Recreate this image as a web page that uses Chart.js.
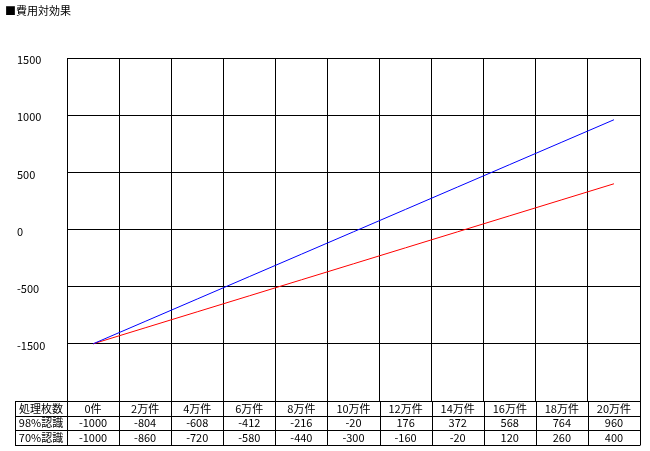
<!DOCTYPE html>
<html>
<head>
<meta charset="utf-8">
<script src="https://cdn.jsdelivr.net/npm/chart.js@4/dist/chart.umd.min.js"></script>
<style>
  body { margin: 0; background: #fff; }
  canvas { display: block; }
</style>
</head>
<body>
<canvas id="costChart" width="650" height="451"></canvas>
<script>
const titleText = '■費用対効果';
const categories = ['0件', '2万件', '4万件', '6万件', '8万件', '10万件', '12万件', '14万件', '16万件', '18万件', '20万件'];
const rate98 = [-1000, -804, -608, -412, -216, -20, 176, 372, 568, 764, 960];
const rate70 = [-1000, -860, -720, -580, -440, -300, -160, -20, 120, 260, 400];
const seriesNames = ['98%認識', '70%認識'];
const headerName = '処理枚数';
// tick labels as they appear in the original (the -1000 line is labelled -1500)
const yTickValues = [1500, 1000, 500, 0, -500, -1000, -1500];
const yTickLabels = ['1500', '1000', '500', '0', '-500', '-1500', ''];

const FONT = "'Noto Sans CJK JP', 'DejaVu Sans', sans-serif";

const dataTable = {
    id: 'dataTable',
    afterDraw(chart) {
        const ctx = chart.ctx;
        const area = chart.chartArea;
        const x = chart.scales.x;
        const rowH = 14.5;
        const left = 15;
        const colW = (area.right - area.left) / categories.length;
        const rows = [[headerName, ...categories],
                      [seriesNames[0], ...rate98.map(String)],
                      [seriesNames[1], ...rate70.map(String)]];

        ctx.save();
        ctx.strokeStyle = '#000';
        ctx.lineWidth = 1;
        ctx.beginPath();
        for (let r = 0; r <= rows.length; r++) {
            const y = Math.round(area.bottom + r * rowH) + 0.5;
            ctx.moveTo(left, y);
            ctx.lineTo(area.right, y);
        }
        const bottom = Math.round(area.bottom + rows.length * rowH) + 0.5;
        ctx.moveTo(left + 0.5, area.bottom);
        ctx.lineTo(left + 0.5, bottom);
        for (let i = 0; i <= categories.length; i++) {
            const gx = Math.round(area.left + i * colW) + 0.5;
            ctx.moveTo(gx, area.bottom);
            ctx.lineTo(gx, bottom);
        }
        ctx.stroke();

        ctx.fillStyle = '#000';
        ctx.font = '11px ' + FONT;
        ctx.textAlign = 'center';
        ctx.textBaseline = 'middle';
        rows.forEach((row, r) => {
            const cy = area.bottom + r * rowH + rowH / 2 + 0.5;
            ctx.fillText(row[0], (left + area.left) / 2, cy);
            for (let i = 1; i < row.length; i++) {
                ctx.fillText(row[i], x.getPixelForValue(i - 1), cy);
            }
        });

        ctx.textAlign = 'left';
        ctx.fillText(titleText, 5, 11);
        ctx.restore();
    }
};

new Chart(document.getElementById('costChart'), {
    type: 'line',
    data: {
        labels: categories,
        datasets: [{
            label: seriesNames[0],
            data: rate98,
            borderColor: '#0000ff',
            borderWidth: 1,
            pointRadius: 0,
            tension: 0
        }, {
            label: seriesNames[1],
            data: rate70,
            borderColor: '#ff0000',
            borderWidth: 1,
            pointRadius: 0,
            tension: 0
        }]
    },
    options: {
        responsive: false,
        animation: false,
        devicePixelRatio: 1,
        layout: { padding: { top: 58, right: 10, bottom: 50, left: 17 } },
        plugins: {
            legend: { display: false },
            title: { display: false },
            tooltip: { enabled: false }
        },
        scales: {
            x: {
                type: 'category',
                offset: true,
                ticks: { display: false },
                grid: { offset: true, color: '#000', drawTicks: false },
                border: { color: '#000' }
            },
            y: {
                min: -1500,
                max: 1500,
                afterBuildTicks: axis => {
                    axis.ticks = yTickValues.map(v => ({ value: v }));
                },
                afterFit: axis => { axis.width = 50; },
                ticks: {
                    crossAlign: 'far',
                    padding: 4,
                    labelOffset: 2,
                    color: '#000',
                    font: { family: FONT, size: 11 },
                    callback: value => yTickLabels[yTickValues.indexOf(value)]
                },
                grid: { color: '#000', drawTicks: false },
                border: { color: '#000' }
            }
        }
    },
    plugins: [dataTable]
});
</script>
</body>
</html>
